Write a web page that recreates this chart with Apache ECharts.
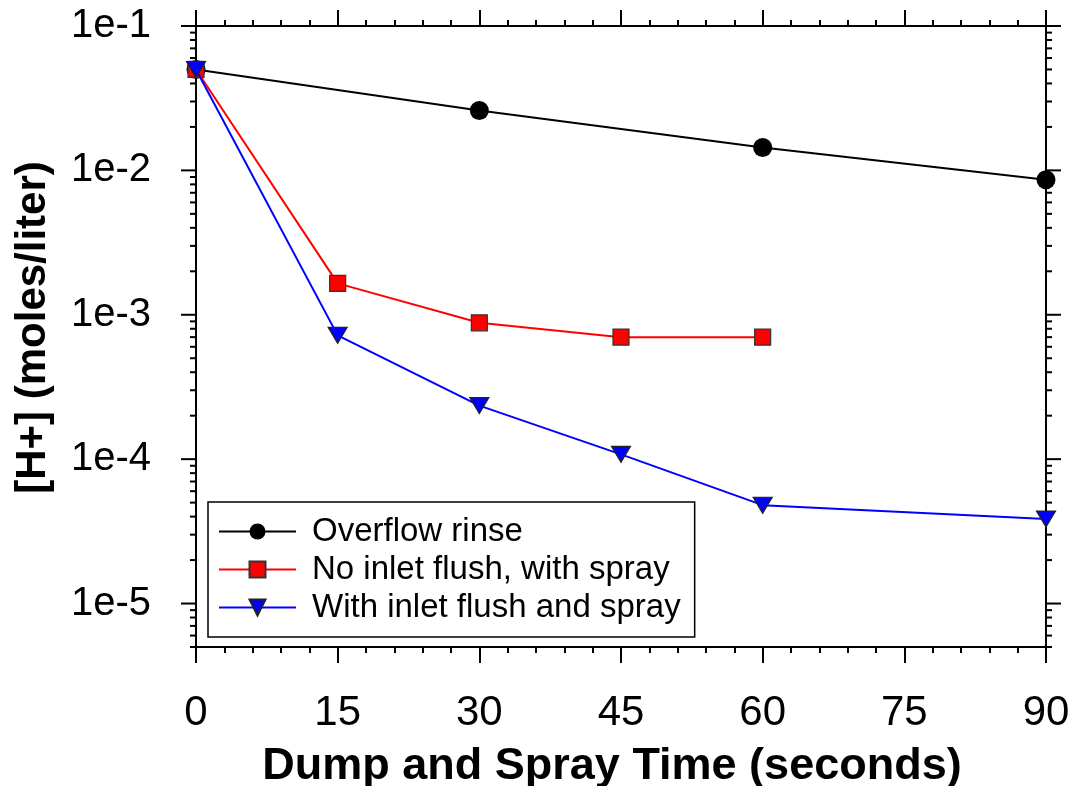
<!DOCTYPE html>
<html>
<head>
<meta charset="utf-8">
<title>[H+] vs Dump and Spray Time</title>
<script src="https://cdn.jsdelivr.net/npm/echarts@6/dist/echarts.min.js"></script>
<style>
  html, body { margin: 0; padding: 0; background: #fff; }
  #chart { width: 1073px; height: 786px; }
</style>
</head>
<body>
<div id="chart"></div>
<script>
// Acid concentration remaining after each rinse method
const seriesNames = ['Overflow rinse', 'No inlet flush, with spray', 'With inlet flush and spray'];
const overflowRinse = [[0, 0.05], [30, 0.026], [60, 0.0144], [90, 0.0086]];
const noInletFlush = [[0, 0.05], [15, 0.00165], [30, 0.00088], [45, 0.0007], [60, 0.0007]];
const withInletFlush = [[0, 0.05], [15, 0.00072], [30, 0.000235], [45, 0.000108], [60, 0.000048], [90, 0.0000385]];

// Axis ranges and tick marks
const xTicks = [0, 15, 30, 45, 60, 75, 90];
const yMin = 5e-6, yMax = 0.1;
const yDecades = [1e-5, 1e-4, 1e-3, 1e-2, 1e-1];
const yMinorMultipliers = [2, 3, 4, 5, 6, 7, 8, 9];

// Log-axis tick marks: decades are long ticks, 2..9 multiples are short ticks
const yTickMarks = [];
yDecades.forEach(d => yTickMarks.push([0, d, 1]));
[1e-6].concat(yDecades).forEach(d => {
  yMinorMultipliers.forEach(m => {
    const v = m * d;
    if (v >= yMin * 0.999 && v <= yMax * 1.001) yTickMarks.push([0, v, 0]);
  });
});

const FONT = "'Liberation Sans', Arial, Helvetica, sans-serif";
const chart = echarts.init(document.getElementById('chart'), null, { renderer: 'canvas' });

const axisLine = { show: true, onZero: false, lineStyle: { color: '#000', width: 2 } };

const option = {
  backgroundColor: '#fff',
  animation: false,
  grid: { left: 196, right: 27, top: 26, bottom: 139, containLabel: false, outerBoundsMode: 'none' },
  legend: {
    data: seriesNames,
    orient: 'vertical',
    left: 208,
    top: 502,
    itemWidth: 77,
    itemHeight: 20,
    itemGap: 5,
    padding: [13, 14, 13, 10],
    borderColor: '#000',
    borderWidth: 1.5,
    backgroundColor: '#fff',
    selectedMode: false,
    textStyle: { fontFamily: FONT, fontSize: 33, color: '#000', padding: [0, 0, 0, 11] }
  },
  xAxis: [
    {
      type: 'value', position: 'bottom', min: 0, max: 90, interval: 15,
      axisLine: axisLine,
      axisTick: { show: true, inside: false, length: 16, lineStyle: { color: '#000', width: 2 } },
      minorTick: { show: true, splitNumber: 5, length: 6, lineStyle: { color: '#000', width: 2 } },
      splitLine: { show: false },
      axisLabel: { margin: 45, fontFamily: FONT, fontSize: 42, color: '#000' },
      name: 'Dump and Spray Time (seconds)',
      nameLocation: 'middle',
      nameGap: 97,
      nameTextStyle: { fontFamily: FONT, fontSize: 45, fontWeight: 'bold', color: '#000', padding: [0, 18, 0, 0] }
    },
    {
      type: 'value', position: 'top', min: 0, max: 90, interval: 15,
      axisLine: axisLine,
      axisTick: { show: true, inside: false, length: 16, lineStyle: { color: '#000', width: 2 } },
      minorTick: { show: true, splitNumber: 5, length: 6, lineStyle: { color: '#000', width: 2 } },
      splitLine: { show: false },
      axisLabel: { show: false }
    }
  ],
  yAxis: [
    {
      type: 'log', logBase: 10, position: 'left', min: yMin, max: yMax,
      axisLine: axisLine,
      axisTick: { show: false },
      minorTick: { show: false },
      splitLine: { show: false },
      axisLabel: {
        margin: 45, fontFamily: FONT, fontSize: 40, color: '#000',
        formatter: function (v) {
          const e = Math.log10(v);
          if (Math.abs(e - Math.round(e)) > 1e-6) return '';
          return '1e' + Math.round(e);
        }
      },
      name: '[H+] (moles/liter)',
      nameLocation: 'middle',
      nameGap: 142,
      nameTextStyle: { fontFamily: FONT, fontSize: 42, fontWeight: 'bold', color: '#000', padding: [0, 0, 0, 18] }
    },
    {
      type: 'log', logBase: 10, position: 'right', min: yMin, max: yMax,
      axisLine: axisLine,
      axisTick: { show: false },
      minorTick: { show: false },
      splitLine: { show: false },
      axisLabel: { show: false }
    }
  ],
  series: [
    {
      // tick marks on the left and right log axes
      type: 'custom',
      name: 'yTicks',
      xAxisIndex: 0, yAxisIndex: 0,
      silent: true,
      clip: false,
      z: 1,
      data: yTickMarks,
      encode: { x: 0, y: 1 },
      renderItem: function (params, api) {
        const v = api.value(1);
        const major = api.value(2) === 1;
        const len = major ? 15 : 6;
        const l = api.coord([0, v]);
        const r = api.coord([90, v]);
        const style = { stroke: '#000', lineWidth: 2 };
        return {
          type: 'group',
          children: [
            { type: 'line', shape: { x1: l[0] - len, y1: l[1], x2: l[0], y2: l[1] }, style: style },
            { type: 'line', shape: { x1: r[0], y1: r[1], x2: r[0] + len, y2: r[1] }, style: style }
          ]
        };
      }
    },
    {
      name: seriesNames[0], type: 'line', data: overflowRinse, clip: false, z: 3,
      symbol: 'circle', symbolSize: 19,
      lineStyle: { color: '#000', width: 2 },
      itemStyle: { color: '#000', borderColor: '#000', borderWidth: 0 }
    },
    {
      name: seriesNames[1], type: 'line', data: noInletFlush, clip: false, z: 4,
      symbol: 'rect', symbolSize: 16,
      lineStyle: { color: '#ff0000', width: 2 },
      itemStyle: { color: '#ff0000', borderColor: '#333', borderWidth: 1.2 }
    },
    {
      name: seriesNames[2], type: 'line', data: withInletFlush, clip: false, z: 5,
      symbol: 'triangle', symbolSize: [19, 16], symbolRotate: 180,
      lineStyle: { color: '#0000ff', width: 2 },
      itemStyle: { color: '#0000ff', borderColor: '#222', borderWidth: 1.2 }
    }
  ]
};

chart.setOption(option);
</script>
</body>
</html>
